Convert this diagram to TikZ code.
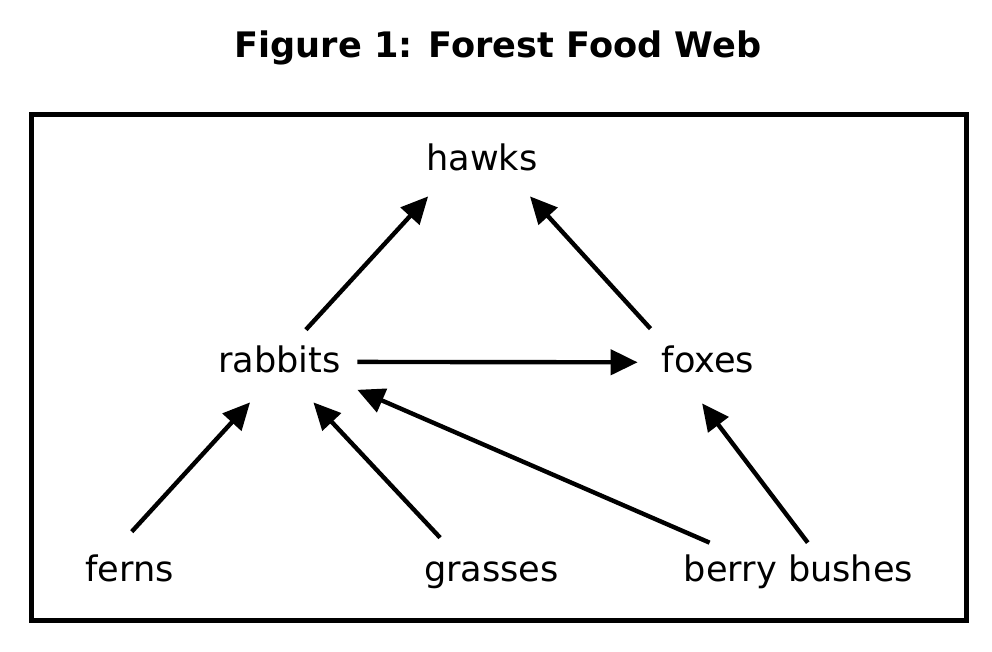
\documentclass[tikz,border=0pt]{standalone}
\usepackage{fontspec}
\setmainfont{DejaVu Sans}
\usetikzlibrary{arrows.meta}
\begin{document}
\begin{tikzpicture}[x=0.02cm,y=-0.02cm,
        org/.style={inner sep=0pt,text height=0.87em,text depth=0.13em,font=\fontsize{20}{24}\selectfont},
        eats/.style={-{Triangle[length=0.54cm,width=0.5cm]},line width=0.088cm}]
        \useasboundingbox (0,0) rectangle (992,652);
        \node[anchor=base,font=\fontsize{20}{24}\selectfont\bfseries] (title) at (498,58) {Figure 1: Forest Food Web};
        \draw[line width=0.1cm] (31.5,114.5) rectangle (966.8,620.5);
        \node[org,minimum height=1.28cm] (hawks) at (482,164) {hawks};
        \node[org,minimum width=3.1cm,minimum height=1.44cm] (rabbits) at (279.5,366) {rabbits};
        \node[org,minimum width=2.8cm,minimum height=1.48cm] (foxes) at (708,366) {foxes};
        \node[org,minimum height=1.72cm] (ferns) at (129.5,575) {ferns};
        \node[org,minimum height=1.48cm] (grasses) at (491.5,575) {grasses};
        \node[org,minimum height=1.28cm] (berries) at (798.5,575) {berry bushes};
        \draw[eats] (rabbits.54)--(hawks.211);
        \draw[eats] (foxes.147)--(hawks.326);
        \draw[eats] (rabbits.3)--(foxes.177);
        \draw[eats] (ferns.87)--(rabbits.231);
        \draw[eats] (grasses.144)--(rabbits.313);
        \draw[eats] (berries.160)--(rabbits.343);
        \draw[eats] (berries.74)--(foxes.261);
    \end{tikzpicture}
\end{document}
